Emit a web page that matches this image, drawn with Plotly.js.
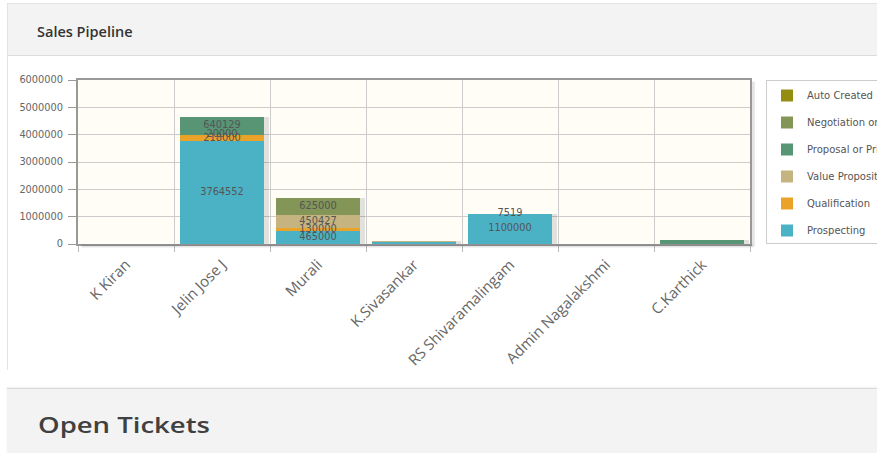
<!DOCTYPE html>
<html>
<head>
<meta charset="utf-8">
<script src="https://cdn.plot.ly/plotly-3.0.1.min.js"></script>
<style>
  html, body { margin: 0; padding: 0; background: #ffffff; overflow: hidden; width: 877px; height: 453px; }
  .panel1 { position: absolute; left: 7px; top: 3px; width: 920px; height: 367px;
            border-left: 1px solid #e3e3e3; border-top: 1px solid #e3e3e3; box-sizing: border-box; }
  .head1 { position: absolute; left: 0; top: 0; width: 100%; height: 52px; background: #f3f3f3;
           border-bottom: 1px solid #dcdcdc; box-sizing: border-box; }
  .head1 span { position: absolute; left: 29px; top: 18px; font-family: "Open Sans", sans-serif;
                font-weight: 600; font-size: 14.5px; color: #333333; }
  .panel2 { position: absolute; left: 7px; top: 388px; width: 920px; height: 80px; background: #f3f3f3;
            border-top: 1px solid #d8d8d8; box-shadow: 0 -1px 2px rgba(0,0,0,0.06); }
  .panel2 span { position: absolute; left: 31px; top: 20px; font-family: "Open Sans", sans-serif;
                 font-weight: 600; font-size: 22px; color: #404040; display: inline-block;
                 transform: scaleX(1.25); transform-origin: left center; }
  #chart { position: absolute; left: 8px; top: 56px; width: 1000px; height: 314px; }
</style>
</head>
<body>
<div class="panel1"><div class="head1"><span>Sales Pipeline</span></div></div>
<div id="chart"></div>
<div class="panel2"><span>Open Tickets</span></div>
<script>
// ---- data ----
const categories = ['K Kiran', 'Jelin Jose J', 'Murali', 'K.Sivasankar', 'RS Shivaramalingam', 'Admin Nagalakshmi', 'C.Karthick'];
const prospecting       = [0, 3764552, 465000, 80000, 1100000, 0, 0];
const qualification     = [0, 218000, 130000, 0, 7519, 0, 0];
const valueProposition  = [0, 20000, 450427, 35000, 0, 0, 0];
const proposalOrPrice   = [0, 640129, 0, 0, 0, 0, 150000];
const negotiation       = [0, 0, 625000, 0, 0, 0, 0];
const autoCreated       = [0, 0, 0, 0, 0, 0, 0];
const seriesNames  = ['Prospecting', 'Qualification', 'Value Proposition', 'Proposal or Price Quote', 'Negotiation or Review', 'Auto Created'];
const seriesColors = ['#4bb2c5', '#eaa228', '#c5b47f', '#579575', '#839557', '#958c12'];
const unlabeledCategories = ['K.Sivasankar', 'C.Karthick'];
const yTicks = [0, 1000000, 2000000, 3000000, 4000000, 5000000, 6000000];

// ---- build traces ----
const series = [prospecting, qualification, valueProposition, proposalOrPrice, negotiation, autoCreated];
const traces = [];
series.forEach((vals, i) => {
  traces.push({
    type: 'bar', x: categories, y: vals, name: seriesNames[i],
    legendgroup: 'g' + i, legendrank: 100 - i,
    marker: { color: seriesColors[i], line: { width: 0 } },
    width: 0.875, hoverinfo: 'skip'
  });
});

// totals for the soft bar shadows (separate overlaid axis so they do not stack)
const totals = categories.map((c, j) => series.reduce((s, v) => s + v[j], 0));
traces.push({
  type: 'bar', x: categories, y: totals, xaxis: 'x2', yaxis: 'y',
  width: 0.055, offset: 0.4375, showlegend: false, hoverinfo: 'skip',
  marker: { color: 'rgba(0,0,0,0.11)', line: { width: 0 } }
});

// point labels centred in each segment
const lx = [], ly = [], lt = [];
const cum = categories.map(() => 0);
series.forEach((vals) => {
  vals.forEach((v, j) => {
    if (v > 0 && unlabeledCategories.indexOf(categories[j]) < 0) {
      lx.push(categories[j]); ly.push(cum[j] + v / 2); lt.push(String(v));
    }
    cum[j] += v;
  });
});
traces.push({
  type: 'scatter', mode: 'text', x: lx, y: ly, text: lt, showlegend: false, hoverinfo: 'skip',
  textposition: 'middle center', cliponaxis: false,
  textfont: { family: 'DejaVu Sans, sans-serif', size: 9.8, color: '#555555' }
});

const layout = {
  width: 1000, height: 314,
  margin: { l: 70, r: 258, t: 24, b: 126 },
  paper_bgcolor: 'rgba(0,0,0,0)',
  plot_bgcolor: '#fffdf6',
  barmode: 'stack',
  hovermode: false,
  showlegend: true,
  xaxis: {
    type: 'category', tickson: 'boundaries', showgrid: true, gridcolor: '#cccccc', gridwidth: 1,
    ticks: 'outside', ticklen: 6, tickcolor: '#bbbbbb', tickangle: -45, ticklabelstandoff: 4,
    tickfont: { family: 'Open Sans, sans-serif', size: 15, color: '#666666' },
    showline: true, linecolor: '#999999', linewidth: 2, mirror: true, zeroline: false,
    fixedrange: true
  },
  xaxis2: {
    type: 'category', overlaying: 'x', matches: 'x', showgrid: false, showticklabels: false,
    ticks: '', showline: false, zeroline: false, fixedrange: true
  },
  yaxis: {
    range: [0, 6000000], tickvals: yTicks, tickformat: 'd',
    showgrid: true, gridcolor: '#cccccc', gridwidth: 1,
    ticks: 'outside', ticklen: 8, tickcolor: '#999999', ticklabelstandoff: 3,
    tickfont: { family: 'DejaVu Sans, sans-serif', size: 9.8, color: '#666666' },
    showline: true, linecolor: '#999999', linewidth: 2, mirror: true, zeroline: false,
    fixedrange: true
  },
  legend: {
    x: 1.0238, xanchor: 'left', y: 1.0, yanchor: 'top',
    bgcolor: '#ffffff', bordercolor: '#cccccc', borderwidth: 1,
    traceorder: 'grouped', tracegroupgap: 8,
    font: { family: 'DejaVu Sans, sans-serif', size: 10, color: '#555555' }
  },
  shapes: [
    { type: 'line', xref: 'paper', yref: 'paper', x0: 1.005, x1: 1.005, y0: 0.99, y1: -0.012,
      line: { color: 'rgba(0,0,0,0.10)', width: 3 } },
    { type: 'line', xref: 'paper', yref: 'paper', x0: 0.005, x1: 1.005, y0: -0.012, y1: -0.012,
      line: { color: 'rgba(0,0,0,0.10)', width: 3 } }
  ]
};

Plotly.newPlot('chart', traces, layout, { staticPlot: true, displayModeBar: false });
</script>
</body>
</html>
